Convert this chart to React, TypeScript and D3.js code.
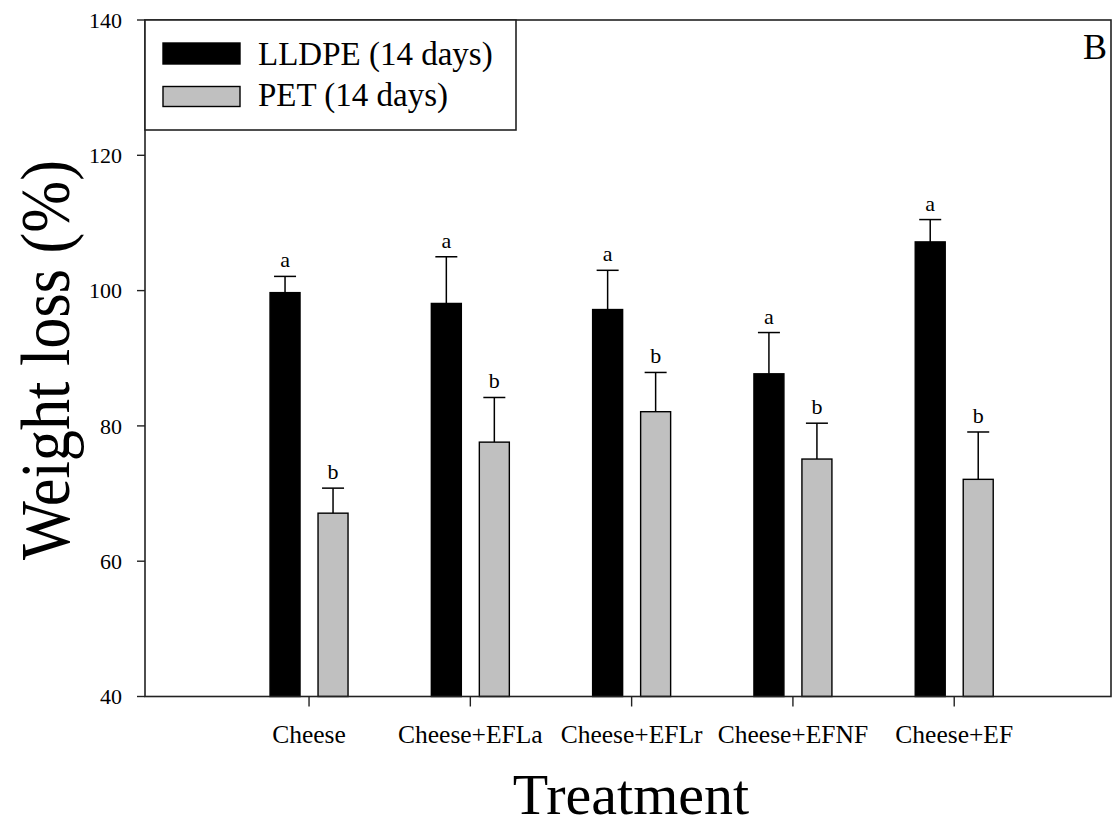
import React from "react";
import * as d3 from "d3";

const categories = ["Cheese", "Cheese+EFLa", "Cheese+EFLr", "Cheese+EFNF", "Cheese+EF"];
const lldpe = [99.7, 98.1, 97.2, 87.7, 107.2];
const lldpeErr = [2.4, 6.9, 5.8, 6.1, 3.3];
const pet = [67.1, 77.6, 82.1, 75.1, 72.1];
const petErr = [3.7, 6.6, 5.8, 5.3, 7.0];
const lldpeLetters = ["a", "a", "a", "a", "a"];
const petLetters = ["b", "b", "b", "b", "b"];
const yTicks = [40, 60, 80, 100, 120, 140];
const seriesNames = ["LLDPE (14 days)", "PET (14 days)"];

const W = 1120;
const H = 829;
const FONT = "'Liberation Serif', 'Times New Roman', serif";

export default function App() {
  const left = 145, right = 1111, top = 20, bottom = 696.5;
  const x = d3.scaleLinear().domain([-1.017, 4.972]).range([left, right]);
  const y = d3.scaleLinear().domain([40, 140]).range([bottom, top]);
  const barW = 30;
  const off = 24;

  const series = [
    { vals: lldpe, errs: lldpeErr, letters: lldpeLetters, fill: "#000000", dx: -off },
    { vals: pet, errs: petErr, letters: petLetters, fill: "#c0c0c0", dx: off },
  ];

  return (
    <svg width={W} height={H} style={{ position: "absolute", left: 0, top: 0, background: "#fff" }} fontFamily={FONT}>
      <rect x={0} y={0} width={W} height={H} fill="#fff" />
      {/* bars */}
      {series.map((s, si) =>
        categories.map((c, i) => {
          const cx = x(i) + s.dx;
          const yv = y(s.vals[i]);
          const ye = y(s.vals[i] + s.errs[i]);
          return (
            <g key={`${si}-${i}`}>
              <line x1={cx} x2={cx} y1={yv} y2={ye} stroke="#000" strokeWidth={1.5} />
              <line x1={cx - 11} x2={cx + 11} y1={ye} y2={ye} stroke="#000" strokeWidth={1.5} />
              <rect x={cx - barW / 2} y={yv} width={barW} height={bottom - yv} fill={s.fill} stroke="#000" strokeWidth={1.4} />
              <text x={cx} y={ye - 9} textAnchor="middle" fontSize={22} fill="#000">{s.letters[i]}</text>
            </g>
          );
        })
      )}
      {/* frame */}
      <rect x={left} y={top} width={right - left} height={bottom - top} fill="none" stroke="#222" strokeWidth={1.6} />
      {/* y ticks */}
      {yTicks.map((t) => (
        <g key={t}>
          <line x1={left - 8} x2={left} y1={y(t)} y2={y(t)} stroke="#222" strokeWidth={1.4} />
          <text x={122} y={y(t)} dy="0.35em" textAnchor="end" fontSize={22} fill="#000">{t}</text>
        </g>
      ))}
      {/* x ticks */}
      {categories.map((c, i) => (
        <g key={c}>
          <line x1={x(i)} x2={x(i)} y1={bottom} y2={bottom + 10} stroke="#222" strokeWidth={1.4} />
          <text x={x(i)} y={743} textAnchor="middle" fontSize={25.5} fill="#000">{c}</text>
        </g>
      ))}
      {/* legend */}
      <rect x={left} y={top} width={516 - left} height={130 - top} fill="#fff" stroke="#222" strokeWidth={1.6} />
      <rect x={163} y={43} width={77} height={21} fill="#000" stroke="#000" strokeWidth={1.4} />
      <rect x={163} y={86.5} width={77} height={20} fill="#c0c0c0" stroke="#000" strokeWidth={1.4} />
      <text x={258} y={65} fontSize={33} fill="#000">{seriesNames[0]}</text>
      <text x={258} y={106} fontSize={33} fill="#000">{seriesNames[1]}</text>
      {/* panel letter */}
      <text x={1083} y={59} fontSize={36} fill="#000">B</text>
      {/* axis titles */}
      <text x={631} y={814} textAnchor="middle" fontSize={58} fill="#000">Treatment</text>
      <text
        x={69}
        y={360}
        textAnchor="middle"
        fontSize={70}
        fill="#000"
        textLength={400}
        lengthAdjust="spacingAndGlyphs"
        transform="rotate(-90, 69, 360)"
      >
        Weight loss (%)
      </text>
    </svg>
  );
}
